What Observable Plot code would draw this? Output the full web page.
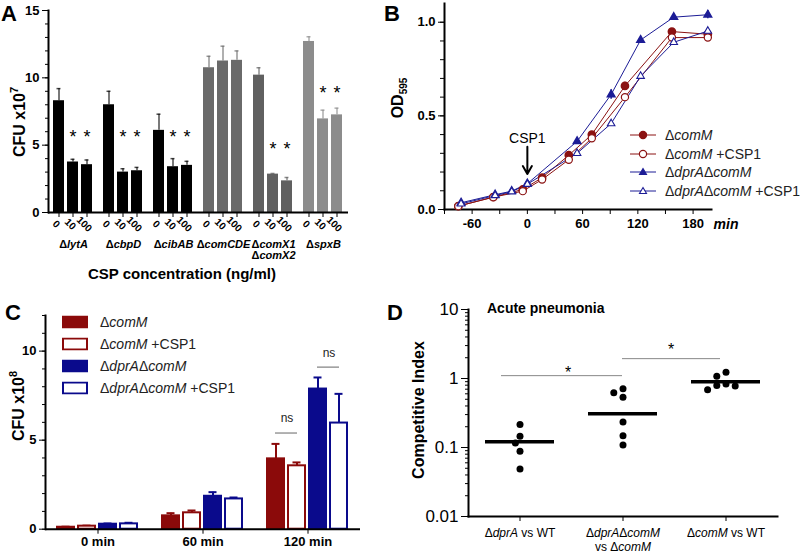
<!DOCTYPE html>
<html><head><meta charset="utf-8">
<script src="https://cdn.jsdelivr.net/npm/d3@7"></script>
<script src="https://cdn.jsdelivr.net/npm/@observablehq/plot@0.6"></script>
<style>
body{margin:0;background:#fff;}
#fig{position:relative;width:800px;height:555px;overflow:hidden;background:#fff;font-family:"Liberation Sans",Arial,Helvetica,sans-serif;color:#000;}
.panel{position:absolute;}
.lbl{position:absolute;white-space:nowrap;line-height:1;}
.letter{position:absolute;font-weight:bold;font-size:22px;line-height:1;}
#pA g[aria-label="y-axis tick label"], #pB g[aria-label="y-axis tick label"], #pB g[aria-label="x-axis tick label"],
#pC g[aria-label="y-axis tick label"], #pC g[aria-label="fx-axis tick label"]{font-weight:bold;}
#pD g[aria-label="x-axis tick label"]{font-size:12px;}
</style>
</head><body>
<div id="fig">
  <div id="pA" class="panel" style="left:0;top:0"></div>
  <div id="pB" class="panel" style="left:400px;top:0"></div>
  <div id="pC" class="panel" style="left:0;top:280px"></div>
  <div id="pD" class="panel" style="left:400px;top:280px"></div>
</div>
<script>
// ---------- Panel A data ----------
const groupsA = ["ΔlytA","ΔcbpD","ΔcibAB","ΔcomCDE","ΔcomX1\nΔcomX2","ΔspxB"];
const concA = ["0","10","100"];
const cfuA = [[8.3,3.75,3.55],[8.0,3.0,3.1],[6.1,3.4,3.5],[10.75,11.25,11.3],[10.2,2.85,2.35],[12.7,6.95,7.25]];
const errA = [[9.2,3.95,3.9],[9.0,3.25,3.35],[7.3,4.0,3.8],[11.6,12.35,12.0],[10.75,2.9,2.6],[13.05,7.6,7.75]];
const starsA = [[0,1,1],[0,1,1],[0,1,1],[0,0,0],[0,1,1],[0,1,1]];
const starYA = [5.96,5.96,5.96,0,5.05,9.2];
const colorsA = ["#000000","#000000","#000000","#6a6a6a","#606060","#8c8c8c"];

// ---------- Panel B data ----------
const seriesB = ["ΔcomM","ΔcomM +CSP1","ΔdprAΔcomM","ΔdprAΔcomM +CSP1"];
const colorB = ["#8b1212","#8b1212","#1c1c96","#1c1c96"];
const timeRed = [-75,-37,-5,16,45,70,106,157,196];
const timeBlue = [-72,-35,-17,0,54,91,123,159,196];
const odB = [
  [0.018,0.066,0.107,0.17,0.29,0.40,0.66,0.95,0.936],
  [0.018,0.066,0.098,0.16,0.266,0.38,0.60,0.918,0.918],
  [0.036,0.079,0.098,0.138,0.364,0.614,0.905,1.027,1.04],
  [0.03,0.075,0.095,0.135,0.30,0.459,0.712,0.893,0.953]
];
const sdB = [
  [0,0,0,0,0,0,0.02,0,0],
  [0,0,0,0,0,0,0,0,0],
  [0,0,0,0,0,0.025,0,0,0.022],
  [0,0,0,0,0,0,0,0,0]
];
const arrowB = [{t:0, from:0.335, to:0.19, labelY:0.38, label:"CSP1"}];

// ---------- Panel C data ----------
const timesC = ["0 min","60 min","120 min"];
const seriesC = ["ΔcomM","ΔcomM +CSP1","ΔdprAΔcomM","ΔdprAΔcomM +CSP1"];
const colorC = ["#8b0a0a","#8b0a0a","#0a0a8c","#0a0a8c"];
const cfuC = [[0.11,0.17,0.28,0.30],[0.75,0.92,1.85,1.7],[3.95,3.56,7.87,5.96]];
const errC = [[0.14,0.2,0.32,0.36],[0.9,1.05,2.08,1.78],[4.79,3.75,8.52,7.6]];
const nsC = [
  {time:"120 min", a:"ΔcomM", b:"ΔcomM +CSP1", y:5.4, ty:6.24},
  {time:"120 min", a:"ΔdprAΔcomM", b:"ΔdprAΔcomM +CSP1", y:9.1, ty:9.87}
];

// ---------- Panel D data ----------
const catsD = ["ΔdprA vs WT","ΔdprAΔcomM\nvs ΔcomM","ΔcomM vs WT"];
const ciD = [
  [0.215,0.146,0.116,0.0885,0.049],
  [0.708,0.62,0.537,0.235,0.148,0.109],
  [1.235,1.08,0.83,0.79,0.78,0.686]
];
const medianD = [0.121,0.309,0.90];
const sigD = [
  {a:catsD[0], b:catsD[1], y:1.10, star:1.44},
  {a:catsD[1], b:catsD[2], y:1.94, star:3.1}
];

// ---------- helpers ----------
const FONT = "'Liberation Sans', Arial, Helvetica, sans-serif";
const baseStyle = (size) => ({fontFamily: FONT, fontSize: size + "px", color: "#000", background: "transparent", overflow: "visible"});
const SVGNS = "http://www.w3.org/2000/svg";

// Italicise gene names after Δ; flattens segments as sibling tspans (no nesting)
function richify(svg) {
  const leaves = Array.from(svg.querySelectorAll("text, tspan")).filter(el => !el.children.length && el.textContent.includes("Δ"));
  for (const el of leaves) {
    const parts = el.textContent.split(/(Δ[A-Za-z0-9]+)/g).filter(s => s.length);
    const segs = [];
    for (const p of parts) {
      if (p.startsWith("Δ")) { segs.push(["Δ", false]); segs.push([p.slice(1), true]); }
      else segs.push([p, false]);
    }
    const make = ([s, it], first) => {
      const t = document.createElementNS(SVGNS, "tspan");
      if (it) t.setAttribute("font-style", "italic");
      if (first && el.tagName.toLowerCase() === "tspan") {
        for (const a of ["x", "y", "dx", "dy"]) if (el.hasAttribute(a)) t.setAttribute(a, el.getAttribute(a));
      }
      t.textContent = s;
      return t;
    };
    if (el.tagName.toLowerCase() === "tspan") {
      const parent = el.parentNode;
      segs.forEach((sg, k) => parent.insertBefore(make(sg, k === 0), el));
      parent.removeChild(el);
    } else {
      el.textContent = "";
      segs.forEach((sg, k) => el.appendChild(make(sg, false)));
    }
  }
}
const richHTML = (s) => s.replace(/Δ([A-Za-z0-9]+)/g, "Δ<i>$1</i>");

const fig = document.getElementById("fig");
function label(html, x, y, css = {}, mode = "center") {
  const d = document.createElement("div");
  d.className = "lbl"; d.innerHTML = html;
  d.style.left = x + "px"; d.style.top = y + "px";
  d.style.transform = mode === "rot" ? "translate(-50%,-50%) rotate(-90deg)" : mode === "left" ? "translate(0,-50%)" : "translate(-50%,-50%)";
  Object.assign(d.style, css);
  fig.appendChild(d);
  return d;
}

// ---------- Panel A ----------
const dataA = groupsA.flatMap((g,i) => concA.map((c,j) => ({group:g, conc:c, value:cfuA[i][j], err:errA[i][j]})));
const starDataA = groupsA.flatMap((g,i) => concA.map((c,j) => ({group:g, conc:c, y:starYA[i], on:starsA[i][j]}))).filter(d => d.on);
const plotA = Plot.plot({
  width:400, height:280, marginLeft:45, marginRight:50, marginTop:10, marginBottom:68,
  style: baseStyle(13),
  fx: {domain: groupsA, padding: 0, axis: null, label: null},
  x: {domain: concA, paddingInner: 0.2, paddingOuter: 0.29, label: null},
  y: {domain: [0,15], label: null},
  color: {domain: groupsA, range: colorsA},
  marks: [
    Plot.axisY({ticks: d3.range(0,16), tickSize: 3, tickFormat: () => "", label: null}),
    Plot.axisY({ticks: [0,5,10,15], tickSize: 6, tickPadding: 3, label: null}),
    Plot.axisX({tickSize: 5, tickFormat: () => "", label: null}),
    Plot.barY(dataA, {fx:"group", x:"conc", y:"value", fill:"group"}),
    Plot.ruleX(dataA, {fx:"group", x:"conc", y1:"value", y2:"err", stroke:"group", strokeWidth:1.5, strokeOpacity:0.7}),
    Plot.tickY(dataA, {fx:"group", x:"conc", y:"err", stroke:"group", strokeWidth:1.5, strokeOpacity:0.7, insetLeft:3.5, insetRight:3.5}),
    Plot.text(starDataA, {fx:"group", x:"conc", y:"y", text: () => "*", fontSize: 18, dy: 5}),
    Plot.text(dataA, {fx:"group", x:"conc", text:"conc", frameAnchor:"bottom", rotate:45, dx:-5, dy:14, fontSize:10, fontWeight:"bold"}),
    Plot.text(groupsA, {fx: d => d, text: d => d, frameAnchor:"bottom", lineAnchor:"top", dy:27, fontSize:11, lineHeight:1.05, fontWeight:"bold"}),
    Plot.ruleY([0], {strokeWidth: 2}),
    Plot.frame({anchor:"left", facetAnchor:"left", strokeWidth: 2})
  ]
});
richify(plotA);
document.getElementById("pA").appendChild(plotA);

// ---------- Panel B ----------
const dataB = seriesB.flatMap((s,i) => (i < 2 ? timeRed : timeBlue).map((t,j) => ({series:s, t, od:odB[i][j], sd:sdB[i][j]})));
const isOpen = d => d.series.includes("+");
const isTri = d => d.series.includes("dprA");
const plotB = Plot.plot({
  width:400, height:280, marginLeft:44, marginRight:89, marginTop:3, marginBottom:71,
  style: baseStyle(13),
  x: {domain: [-90,200], label: null},
  y: {domain: [0,1.1], label: null},
  color: {domain: seriesB, range: colorB},
  symbol: {domain: seriesB, range: ["circle","circle","triangle","triangle"]},
  marks: [
    Plot.axisX({ticks: [-90,-30,30,90,150], tickSize: 5, tickFormat: () => "", label: null}),
    Plot.axisX({ticks: [-60,0,60,120,180], tickSize: 5, tickPadding: 4, tickFormat: d => String(d), label: null}),
    Plot.axisY({ticks: d3.range(0,11).map(d => d/10), tickSize: 4, tickFormat: () => "", label: null}),
    Plot.axisY({ticks: [0,0.5,1], tickSize: 6, tickFormat: d3.format(".1f"), label: null}),
    Plot.frame({anchor:"left", strokeWidth: 2}),
    Plot.frame({anchor:"bottom", strokeWidth: 2}),
    Plot.line(dataB, {x:"t", y:"od", z:"series", stroke:"series", strokeWidth: 1}),
    Plot.ruleX(dataB.filter(d => d.sd > 0), {x:"t", y1: d => d.od - d.sd, y2: d => d.od + d.sd, stroke:"series", strokeWidth: 1.5}),
    Plot.dot(dataB, {filter: d => !isOpen(d) && !isTri(d), x:"t", y:"od", symbol:"series", fill:"series", stroke:"series", r:3.6}),
    Plot.dot(dataB, {filter: d => isOpen(d) && !isTri(d), x:"t", y:"od", symbol:"series", fill:"white", stroke:"series", r:3.6, strokeWidth:1.2}),
    Plot.dot(dataB, {filter: d => !isOpen(d) && isTri(d), x:"t", y:"od", symbol:"series", fill:"series", stroke:"series", r:2.8}),
    Plot.dot(dataB, {filter: d => isOpen(d) && isTri(d), x:"t", y:"od", symbol:"series", fill:"white", stroke:"series", r:2.8, strokeWidth:1.1}),
    Plot.arrow(arrowB, {x1:"t", x2:"t", y1:"from", y2:"to", stroke:"black", strokeWidth: 2, headLength: 9}),
    Plot.text(arrowB, {x:"t", y:"labelY", text:"label", fontSize: 14})
  ]
});
document.getElementById("pB").appendChild(plotB);

// ---------- Panel C ----------
const dataC = timesC.flatMap((t,i) => seriesC.map((s,j) => ({time:t, series:s, value:cfuC[i][j], err:errC[i][j], open:s.includes("+")})));
const plotC = Plot.plot({
  width:400, height:275, marginLeft:45, marginRight:40, marginTop:35, marginBottom:26.3,
  style: baseStyle(13),
  fx: {domain: timesC, padding: 0, axis: "bottom", tickSize: 5, tickPadding: 3, label: null},
  x: {domain: seriesC, paddingInner: 0.09, paddingOuter: 0.49, axis: null},
  y: {domain: [0,12], label: null},
  color: {domain: seriesC, range: colorC},
  marks: [
    Plot.axisY({ticks: d3.range(0,13), tickSize: 3, tickFormat: () => "", label: null}),
    Plot.axisY({ticks: [0,5,10], tickSize: 6, label: null}),
    Plot.ruleX(dataC, {fx:"time", x:"series", y1:"value", y2:"err", stroke:"series", strokeWidth: 2}),
    Plot.tickY(dataC, {fx:"time", x:"series", y:"err", stroke:"series", strokeWidth: 2, insetLeft: 5.5, insetRight: 5.5}),
    Plot.barY(dataC, {filter: d => !d.open, fx:"time", x:"series", y:"value", fill:"series", stroke:"series", strokeWidth: 2, insetLeft: 1, insetRight: 1}),
    Plot.barY(dataC, {filter: d => d.open, fx:"time", x:"series", y:"value", fill:"white", stroke:"series", strokeWidth: 2, insetLeft: 1, insetRight: 1}),
    Plot.ruleY(nsC, {fx:"time", x1:"a", x2:"b", y:"y", stroke:"#999", strokeWidth: 1.5, insetLeft: 9, insetRight: 9}),
    Plot.text(nsC, {fx:"time", x:"a", y:"ty", text: () => "ns", dx: 11, fontSize: 12, fill:"#222"}),
    Plot.ruleY([0], {strokeWidth: 2}),
    Plot.frame({anchor:"left", facetAnchor:"left", strokeWidth: 2})
  ]
});
document.getElementById("pC").appendChild(plotC);

// ---------- Panel D ----------
const dataD = catsD.flatMap((c,i) => ciD[i].map(v => ({cat:c, ci:v})));
const medD = catsD.map((c,i) => ({cat:c, median:medianD[i]}));
const minorD = [];
for (const p of [0.01,0.1,1]) for (let k = 2; k <= 9; k++) minorD.push(+(p*k).toPrecision(3));

function beeswarm(opts) {
  return Plot.initializer(opts, (data, facets, channels, scales) => {
    const X = channels.x.value, Y = channels.y.value;
    const sx = scales.x;
    const Xc = Array.from(X, v => sx(v));
    const Yp = Array.from(Y, v => scales.y(v));
    const out = new Float64Array(X.length);
    const dmin = 7.4, step = 4.6;
    for (const facet of facets) {
      const placed = [];
      for (const i of facet) {
        out[i] = Xc[i];
        for (let k = 0; k < 30; k++) {
          const off = k === 0 ? 0 : (k % 2 ? -1 : 1) * Math.ceil(k / 2) * step;
          const cx = Xc[i] + off;
          if (placed.every(j => Math.hypot(out[j] - cx, Yp[j] - Yp[i]) >= dmin)) { out[i] = cx; break; }
        }
        placed.push(i);
      }
    }
    return {data, facets, channels: {x: {value: out}}};
  });
}

const plotD = Plot.plot({
  width:400, height:275, marginLeft:68, marginRight:23, marginTop:29, marginBottom:39,
  style: baseStyle(17),
  x: {domain: catsD, padding: 0, label: null},
  y: {type: "log", domain: [0.01,10], label: null},
  marks: [
    Plot.axisY({ticks: minorD, tickSize: 3, tickFormat: () => "", label: null}),
    Plot.axisY({ticks: [0.01,0.1,1,10], tickSize: 7, tickFormat: d => String(d), label: null}),
    Plot.axisX({tickSize: 5, tickPadding: 5, lineHeight: 1.2, label: null}),
    Plot.frame({anchor:"left", strokeWidth: 2}),
    Plot.frame({anchor:"bottom", strokeWidth: 2}),
    Plot.ruleY([sigD[0]], {x1:"a", x2:"b", y:"y", stroke:"#888", strokeWidth: 1, insetLeft: 33, insetRight: 52}),
    Plot.ruleY([sigD[1]], {x1:"a", x2:"b", y:"y", stroke:"#888", strokeWidth: 1, insetLeft: 51, insetRight: 57}),
    Plot.text(sigD, {x:"a", y:"star", text: () => "*", dx: 48, dy: 5, fontSize: 16}),
    Plot.tickY(medD, {x:"cat", y:"median", strokeWidth: 3.5, insetLeft: 17, insetRight: 17}),
    Plot.dot(dataD, beeswarm({x:"cat", y:"ci", r:3.5, fill:"black"}))
  ]
});
richify(plotD);
document.getElementById("pD").appendChild(plotD);

// ---------- HTML annotations ----------
const letters = [["A",1,3],["B",384,3],["C",5,302],["D",387,302]];
for (const [t,x,y] of letters) { const d = document.createElement("div"); d.className = "letter"; d.textContent = t; d.style.left = x+"px"; d.style.top = y+"px"; fig.appendChild(d); }

label("CFU x10<sup style='font-size:11px;vertical-align:7px'>7</sup>", 18, 122, {fontWeight:"bold", fontSize:"16px"}, "rot");
label("CSP concentration (ng/ml)", 182, 273, {fontWeight:"bold", fontSize:"15px"});
label("OD<sub style='font-size:10px;vertical-align:-4px'>595</sub>", 399, 98, {fontWeight:"bold", fontSize:"16px"}, "rot");
label("min", 726, 224, {fontWeight:"bold", fontStyle:"italic", fontSize:"14px"});
label("CFU x10<sup style='font-size:11px;vertical-align:7px'>8</sup>", 17, 406, {fontWeight:"bold", fontSize:"16px"}, "rot");
label("Competitive Index", 419, 410, {fontWeight:"bold", fontSize:"16px"}, "rot");
label("Acute pneumonia", 487, 308, {fontWeight:"bold", fontSize:"14px"}, "left");

// Legend B
const legRowsB = [135, 153.5, 172, 190.5];
seriesB.forEach((s,i) => {
  const c = colorB[i], open = s.includes("+"), tri = i >= 2;
  const marker = tri
    ? `<path d="M13,2.5 L16.5,8.5 L9.5,8.5 Z" fill="${open ? "white" : c}" stroke="${c}" stroke-width="1.1"/>`
    : `<circle cx="13" cy="6" r="3.6" fill="${open ? "white" : c}" stroke="${c}" stroke-width="1.2"/>`;
  label(`<svg width="26" height="12" style="display:block"><line x1="0" x2="26" y1="6" y2="6" stroke="${c}" stroke-width="1"/>${marker}</svg>`, 630, legRowsB[i], {}, "left");
  label(richHTML(s), 665, legRowsB[i], {fontSize:"14px", color:"#222"}, "left");
});

// Legend C
const legRowsC = [321.7, 344.0, 366.2, 388.4];
seriesC.forEach((s,i) => {
  const c = colorC[i], open = s.includes("+");
  label(`<svg width="26" height="13" style="display:block"><rect x="1" y="1" width="24" height="11" fill="${open ? "white" : c}" stroke="${c}" stroke-width="2"/></svg>`, 62, legRowsC[i], {}, "left");
  label(richHTML(s), 100, legRowsC[i], {fontSize:"14px", color:"#222"}, "left");
});
</script>
</body></html>
